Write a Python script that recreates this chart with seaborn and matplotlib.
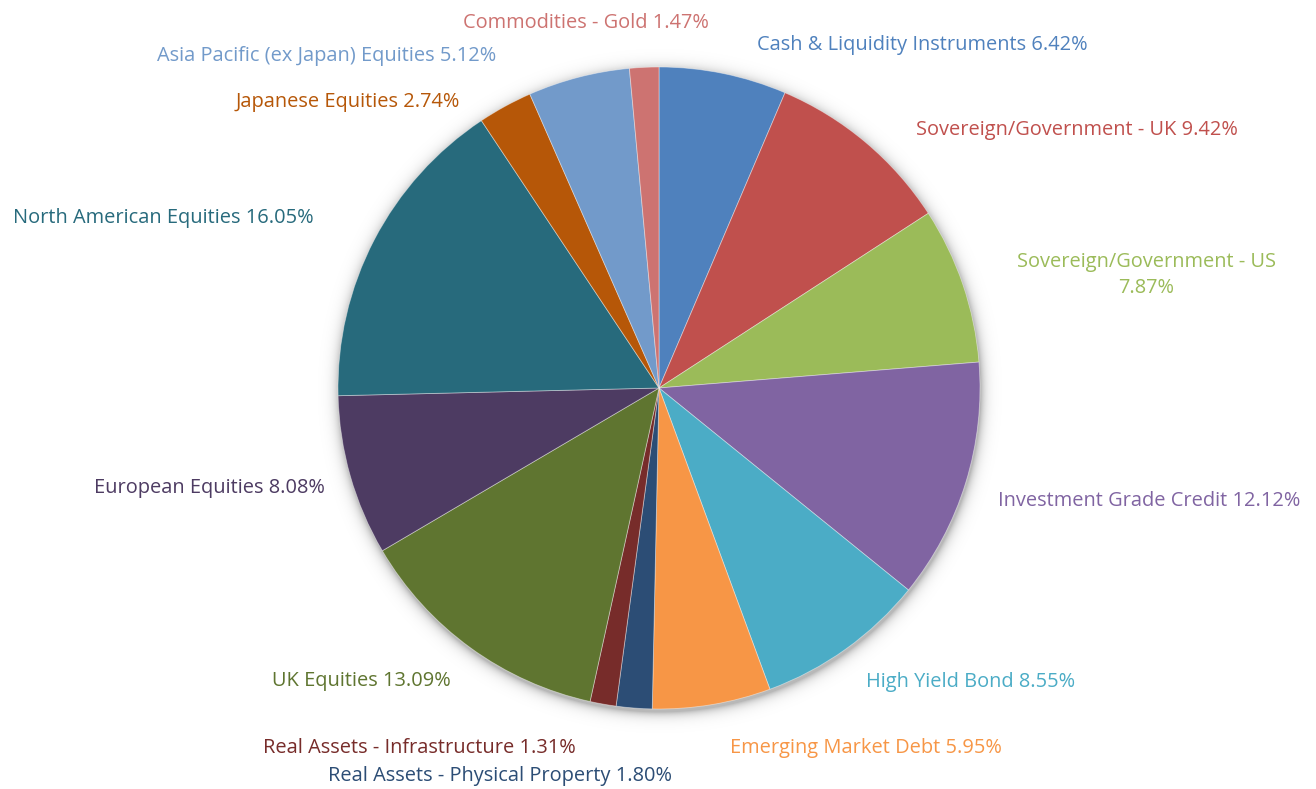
import numpy as np
import matplotlib
matplotlib.use("Agg")
import matplotlib.pyplot as plt
import seaborn as sns

# Portfolio allocation by asset class (%)
categories = [
    "Cash & Liquidity Instruments",
    "Sovereign/Government - UK",
    "Sovereign/Government - US",
    "Investment Grade Credit",
    "High Yield Bond",
    "Emerging Market Debt",
    "Real Assets - Physical Property",
    "Real Assets - Infrastructure",
    "UK Equities",
    "European Equities",
    "North American Equities",
    "Japanese Equities",
    "Asia Pacific (ex Japan) Equities",
    "Commodities - Gold",
]
weights = [6.42, 9.42, 7.87, 12.12, 8.55, 5.95, 1.80, 1.31, 13.09, 8.08, 16.05, 2.74, 5.12, 1.47]

colors = [
    "#4F81BD", "#C0504D", "#9BBB59", "#8064A2", "#4BACC6", "#F79646", "#2C4D75",
    "#772C2A", "#5F7530", "#4D3B62", "#276A7C", "#B65708", "#729ACA", "#CD7371",
]

sns.set_theme(style="white")
plt.rcParams["font.family"] = ["Open Sans", "DejaVu Sans"]

W, H = 1316, 789
fig = plt.figure(figsize=(W / 100, H / 100), dpi=100)
ax = fig.add_axes([0, 0, 1, 1])
ax.set_xlim(0, W)
ax.set_ylim(0, H)
ax.set_aspect("equal")
ax.axis("off")

cx, cy, R = 659, 401, 321

# soft drop shadow under the pie
gx, gy = np.meshgrid(np.arange(W) + 0.5, np.arange(H) + 0.5)
d = np.hypot(gx - (cx + 1), gy - (cy - 3)) - R
alpha = np.clip(np.exp(-np.maximum(d, 0) / 5.0) * 0.28, 0, 1)
shadow = np.zeros((H, W, 4))
shadow[..., 3] = alpha
ax.imshow(shadow, extent=(0, W, 0, H), origin="lower", zorder=0, interpolation="bilinear")

wedges, _ = ax.pie(
    weights, colors=colors, startangle=90, counterclock=False,
    center=(cx, cy), radius=R, frame=True,
    wedgeprops=dict(edgecolor=(1, 1, 1, 0.45), linewidth=0.6),
)
for w in wedges:
    w.set_zorder(2)
ax.set_xlim(0, W)
ax.set_ylim(0, H)
ax.axis("off")

# label placement: angular nudge (deg) and distance from centre (px)
label_nudge = [4.3, 4.6, 1.0, 1.0, 0.3, -1.7, -6.4, 3.0, -0.4, -0.5, -1.0, -6.0, -11.5, -8.6]
label_dist = [359, 366, 376, 357, 358, 365, 386, 367, 358, 348, 386, 350, 372, 374]

fig.canvas.draw()
renderer = fig.canvas.get_renderer()
cum = np.cumsum([0] + weights[:-1])
total = sum(weights)
for i, (name, val, col) in enumerate(zip(categories, weights, colors)):
    mid = (cum[i] + val / 2) / total * 360
    ang = np.deg2rad(mid + label_nudge[i])
    x = cx + label_dist[i] * np.sin(ang)
    y = cy + label_dist[i] * np.cos(ang) - 2
    s = np.sin(np.deg2rad(mid))
    ha = "left" if s > 0.06 else ("right" if s < -0.06 else "center")
    txt = f"{name} {val:.2f}%"
    t = ax.text(x, y, txt, color=col, fontsize=14.4, ha=ha, va="center",
                multialignment="center", linespacing=1.4, zorder=3)
    bb = t.get_window_extent(renderer)
    if bb.x1 > W - 4 or bb.x0 < 4:
        t.set_text(f"{name}\n{val:.2f}%")

fig.savefig("out.png", dpi=100)
